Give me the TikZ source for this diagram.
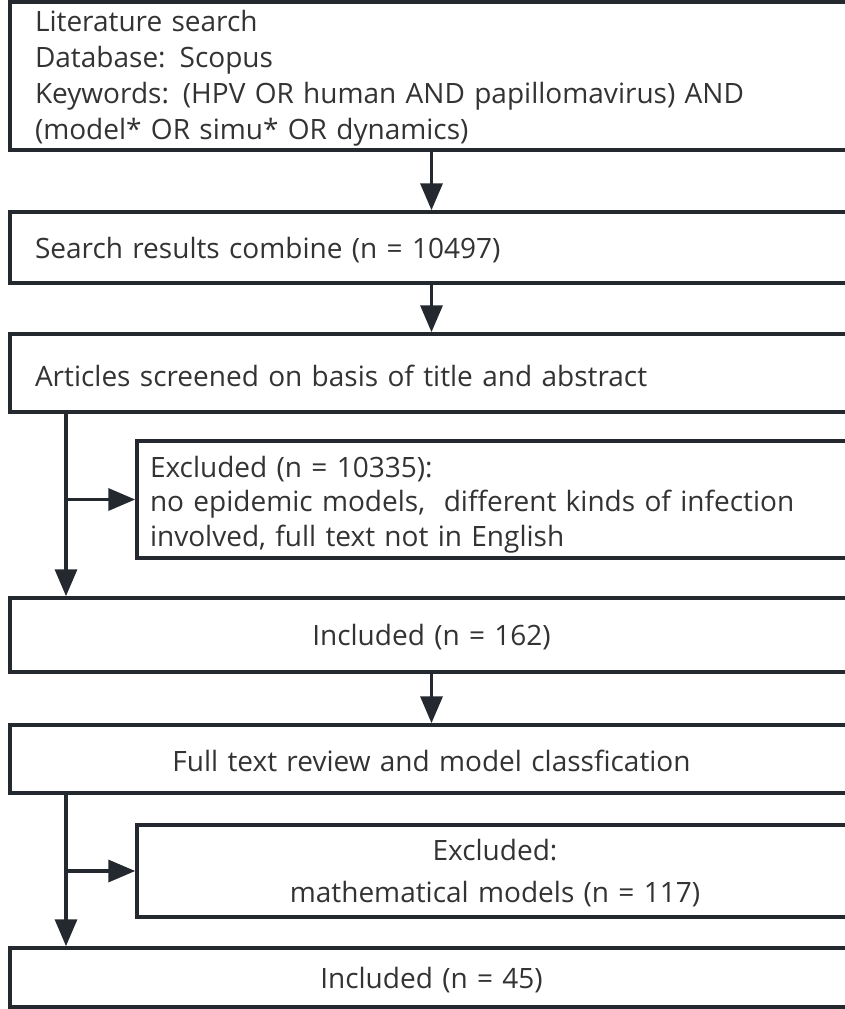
\documentclass[tikz,border=0pt]{standalone}
\usepackage{fontspec}
\setmainfont{Open Sans}
\usetikzlibrary{arrows.meta}
\definecolor{edge}{HTML}{23292E}
\definecolor{txt}{HTML}{333333}
\tikzset{
  box/.style={draw=edge, line width=3.5pt, fill=white, rectangle, minimum width=843pt,
    inner sep=0pt},
  exbox/.style={box, minimum width=716pt},
  lt/.style={inner sep=0pt, text=txt, font=\fontsize{28}{36}\selectfont, text width=793pt, align=left},
  ct/.style={lt, align=center},
  elt/.style={lt, text width=690pt, font=\fontsize{28}{34.5}\selectfont},
  ect/.style={elt, align=center, font=\fontsize{28}{42}\selectfont},
  arr/.style={draw=edge, line width=3.5pt, -{Triangle[length=27pt,width=22pt]}},
}
\begin{document}
\begin{tikzpicture}[x=1pt,y=-1pt]
\useasboundingbox (0,0) rectangle (845,1009);
\clip (0,0) rectangle (845,1009);
\coordinate (L) at (66,0);
\node[box, minimum height=148pt] (b1) at (431.5,76) {};
\node[box, minimum height=71pt] (b2) at (431.5,247.5) {};
\node[box, minimum height=78pt] (b3) at (431.5,373) {};
\node[exbox, minimum height=117pt] (e1) at (495,499.5) {};
\node[box, minimum height=74pt] (b4) at (431.5,635) {};
\node[box, minimum height=68pt] (b5) at (431.5,759) {};
\node[exbox, minimum height=92pt] (e2) at (495,871) {};
\node[box, minimum height=59pt] (b6) at (431.5,977.5) {};
\node[lt] (t1) at ([yshift=-2.5pt]b1.center) {Literature search\\Database: Scopus\\Keywords: (HPV OR human AND papillomavirus) AND\\(model* OR simu* OR dynamics)};
\node[lt] (t2) at ([yshift=-3pt]b2.center) {Search results combine (n = 10497)};
\node[lt] (t3) at ([yshift=-3pt]b3.center) {Articles screened on basis of title and abstract};
\node[elt] (te1) at ([yshift=-5pt]e1.center) {Excluded (n = 10335):\\no epidemic models,\ \ different kinds of infection\\involved, full text not in English};
\node[ct] (t4) at ([yshift=-2pt]b4.center) {Included (n = 162)};
\node[ct] (t5) at ([yshift=-2pt]b5.center) {Full text review and model classfication};
\node[ect] (te2) at ([yshift=-2pt]e2.center) {Excluded:\\mathematical models (n = 117)};
\node[ct] (t6) at ([yshift=-3pt]b6.center) {Included (n = 45)};
\draw[arr] (b1) -- (b2);
\draw[arr] (b2) -- (b3);
\draw[arr] (b3.south -| L) -- (b4.north -| L);
\draw[arr] (e1.west -| L) -- (e1.west);
\draw[arr] (b4) -- (b5);
\draw[arr] (b5.south -| L) -- (b6.north -| L);
\draw[arr] (e2.west -| L) -- (e2.west);
\end{tikzpicture}
\end{document}
